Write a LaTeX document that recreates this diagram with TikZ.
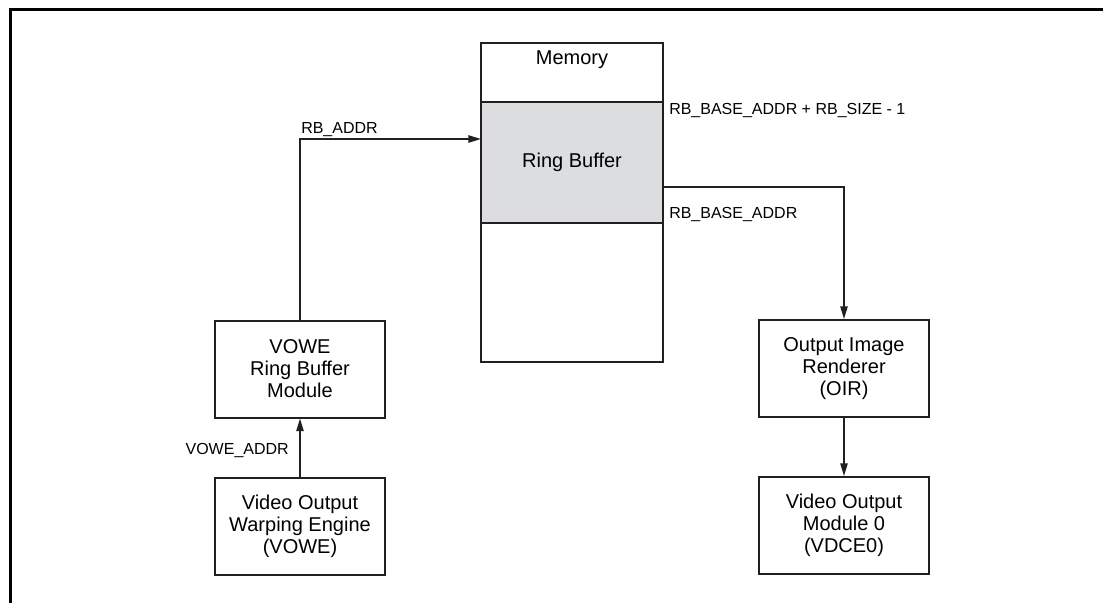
\documentclass[tikz,border=0pt]{standalone}
\usepackage{fontspec}
\setmainfont{Liberation Sans}
\usetikzlibrary{arrows.meta,positioning,calc}
\definecolor{linec}{HTML}{231F20}
\definecolor{rbfill}{HTML}{DCDDDF}
\begin{document}
\begin{tikzpicture}[x=0.75pt,y=-0.75pt,
  box/.style={draw=linec,line width=1.5pt,rectangle,inner sep=0pt,
    minimum width=127.5pt,minimum height=72.75pt,align=center,
    font=\fontsize{15}{16.5}\selectfont},
  lbl/.style={inner sep=0pt,font=\fontsize{12}{14}\selectfont},
  arr/.style={draw=linec,line width=1.1pt,-{Triangle[length=9.5pt,width=5.5pt]}}]
\useasboundingbox (0,0) rectangle (1103,603);
% outer frame
\draw[line width=2.25pt] (10.5,603) -- (10.5,9) -- (1103,9);
% memory
\node[draw=linec,line width=1.5pt,inner sep=0pt,minimum width=136.5pt,minimum height=239.25pt] (mem) at (572,202.5) {};
\node[draw=linec,fill=rbfill,line width=1.5pt,inner sep=0pt,minimum width=136.5pt,minimum height=90.75pt,font=\fontsize{15}{16.5}\selectfont] (rb) at (572,162.5) {Ring Buffer};
\node[inner sep=0pt,font=\fontsize{15}{16.5}\selectfont] (memlbl) at (572,60) {Memory};
% boxes
\node[box] (vrb) at (300,369) {VOWE\\Ring Buffer\\Module};
\node[box] (vowe) at (300,526.5) {Video Output\\Warping Engine\\(VOWE)};
\node[box] (oir) at (844,368.5) {Output Image\\Renderer\\(OIR)};
\node[box] (vdce) at (844,525.5) {Video Output\\Module 0\\(VDCE0)};
% coordinates
\coordinate (rbin) at (481,139);
\coordinate (rbout) at (663,187);
% connectors
\draw[arr] (vowe.north) -- (vrb.south);
\draw[arr] (vrb.north) |- (rbin);
\draw[arr] (rbout) -| (oir.north);
\draw[arr] (oir.south) -- (vdce.north);
% labels
\node[lbl,anchor=base west] (l1) at (301,133) {RB\_ADDR};
\node[lbl,anchor=base east] (l2) at (289,454) {VOWE\_ADDR};
\node[lbl,anchor=base west] (l3) at (669,114) {RB\_BASE\_ADDR + RB\_SIZE - 1};
\node[lbl,anchor=base west] (l4) at (669,218) {RB\_BASE\_ADDR};
\end{tikzpicture}
\end{document}
